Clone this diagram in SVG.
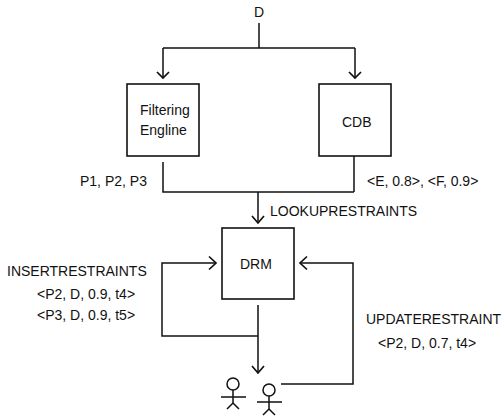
<svg xmlns="http://www.w3.org/2000/svg" width="504" height="418" viewBox="0 0 504 418">
<style>
text{font-family:"Liberation Sans",Arial,sans-serif;font-size:14px;fill:#111}
.b{fill:#fff;stroke:#111;stroke-width:1.6}
.c{fill:none;stroke:#111;stroke-width:1.5}
.h{fill:none;stroke:#111;stroke-width:1.7}
</style>
<rect width="504" height="418" fill="#fff"/>
<g id="connectors">
<path class="c" d="M259 23V48M163 48H355M163 48V78M355 48V78"/>
<path class="h" d="M157 72L163 78L169 72M349 72L355 78L361 72"/>
<path class="c" d="M163 162V192H354M354 156V192M258 192V222"/>
<path class="h" d="M252 216L258 223L264 216"/>
<path class="c" d="M258 305V372M258 336H162V263H216"/>
<path class="h" d="M252 366L258 373L264 366M209 256.500L216 263L209 269.500"/>
<path class="c" d="M281 384H353V263H301"/>
<path class="h" d="M307 256.500L300 263L307 269.500"/>
</g>
<g id="filtering-engine"><rect class="b" x="127" y="84" width="72" height="72"/><text x="140" y="115">Filtering</text><text x="140" y="135">Engline</text></g>
<g id="cdb"><rect class="b" x="319" y="84" width="72" height="72"/><text x="342" y="127">CDB</text></g>
<g id="drm"><rect class="b" x="222" y="228" width="72" height="71"/><text x="240" y="269">DRM</text></g>
<g id="user1"><circle cx="233" cy="384" r="6" class="c"/><path class="c" d="M233 390V403M221 397H246M227 409L233 403L239 409"/></g>
<g id="user2"><circle cx="269" cy="390" r="6" class="c"/><path class="c" d="M269 396V409M257 402H282M263 415L269 409L275 415"/></g>
<g id="labels">
<text x="259" y="17" text-anchor="middle">D</text>
<text x="80" y="186">P1, P2, P3</text>
<text x="367" y="186">&lt;E, 0.8&gt;, &lt;F, 0.9&gt;</text>
<text x="270" y="216">LOOKUPRESTRAINTS</text>
<text x="7" y="276">INSERTRESTRAINTS</text>
<text x="37" y="299">&lt;P2, D, 0.9, t4&gt;</text>
<text x="37" y="320">&lt;P3, D, 0.9, t5&gt;</text>
<text x="366" y="324">UPDATERESTRAINT</text>
<text x="378" y="348">&lt;P2, D, 0.7, t4&gt;</text>
</g>
</svg>
